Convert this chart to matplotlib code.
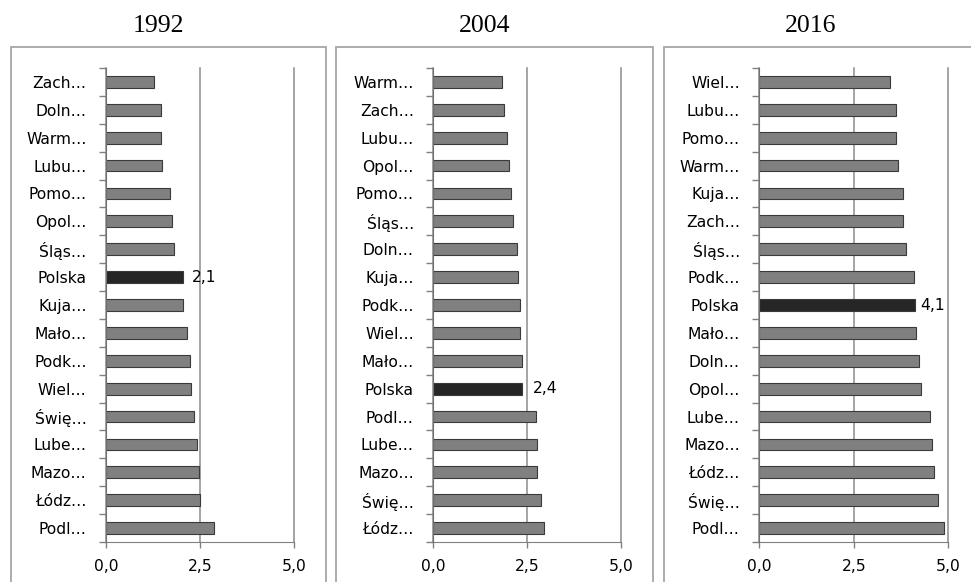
import matplotlib
matplotlib.use("Agg")
import matplotlib.pyplot as plt
from matplotlib.patches import Rectangle
from matplotlib.ticker import FixedLocator, FuncFormatter

# ---- data ----
years = ["1992", "2004", "2016"]

cats_1992 = ["Zach…", "Doln…", "Warm…", "Lubu…", "Pomo…", "Opol…", "Śląs…", "Polska",
             "Kuja…", "Mało…", "Podk…", "Wiel…", "Świę…", "Lube…", "Mazo…", "Łódz…", "Podl…"]
vals_1992 = [1.28, 1.46, 1.46, 1.50, 1.69, 1.75, 1.80, 2.06,
             2.06, 2.16, 2.23, 2.26, 2.33, 2.42, 2.47, 2.50, 2.87]

cats_2004 = ["Warm…", "Zach…", "Lubu…", "Opol…", "Pomo…", "Śląs…", "Doln…", "Kuja…",
             "Podk…", "Wiel…", "Mało…", "Polska", "Podl…", "Lube…", "Mazo…", "Świę…", "Łódz…"]
vals_2004 = [1.84, 1.88, 1.95, 2.02, 2.06, 2.12, 2.23, 2.26,
             2.30, 2.30, 2.36, 2.37, 2.73, 2.77, 2.77, 2.86, 2.94]

cats_2016 = ["Wiel…", "Lubu…", "Pomo…", "Warm…", "Kuja…", "Zach…", "Śląs…", "Podk…",
             "Polska", "Mało…", "Doln…", "Opol…", "Lube…", "Mazo…", "Łódz…", "Świę…", "Podl…"]
vals_2016 = [3.47, 3.62, 3.62, 3.66, 3.79, 3.79, 3.89, 4.09,
             4.13, 4.14, 4.23, 4.27, 4.52, 4.57, 4.61, 4.74, 4.88]

x_ticks = [0.0, 2.5, 5.0]
highlight = "Polska"

# ---- styling ----
W, H = 971, 582
FONT = "DejaVu Sans"
FS = 11.2
BAR_COLOR = "#808080"
HL_COLOR = "#262626"
EDGE = "#3a3a3a"
GRID = "#8c8c8c"
BORDER = "#a6a6a6"

fig = plt.figure(figsize=(W / 100, H / 100), dpi=100)

panels = [
    dict(cats=cats_1992, vals=vals_1992, x0=106, x5=294, box=(11, 326), tx=158, loff=8),
    dict(cats=cats_2004, vals=vals_2004, x0=433.3, x5=621.3, box=(336, 653), tx=485, loff=10),
    dict(cats=cats_2016, vals=vals_2016, x0=759.3, x5=948.3, box=(664, 1000), tx=811, loff=5),
]
ax_top, ax_bot = 68, 542
box_top = 47

def fmt(v, pos=None):
    return f"{v:.1f}".replace(".", ",")

for year, p in zip(years, panels):
    ax = fig.add_axes([p["x0"] / W, 1 - ax_bot / H, (p["x5"] - p["x0"]) / W, (ax_bot - ax_top) / H])
    n = len(p["cats"])
    ys = list(range(n))
    colors = [HL_COLOR if c == highlight else BAR_COLOR for c in p["cats"]]
    ax.barh(ys, p["vals"], height=0.42, color=colors, edgecolor=EDGE, linewidth=0.8, zorder=3)
    ax.set_ylim(n - 0.5, -0.5)
    ax.set_xlim(0, 5)
    ax.set_yticks(ys)
    ax.set_yticklabels(p["cats"], fontsize=FS, family=FONT)
    ax.yaxis.set_minor_locator(FixedLocator([i - 0.5 for i in range(n + 1)]))
    ax.tick_params(axis="y", which="major", length=0, pad=14)
    ax.tick_params(axis="y", which="minor", length=5, width=1.0, color="#808080")
    ax.set_xticks(x_ticks)
    ax.xaxis.set_major_formatter(FuncFormatter(fmt))
    ax.tick_params(axis="x", which="major", length=4, width=1.0, color="#808080", pad=8, labelsize=FS)
    for lab in ax.get_xticklabels():
        lab.set_family(FONT)
    ax.xaxis.grid(True, color=GRID, linewidth=1.1, zorder=0)
    for gl in ax.get_xgridlines():
        gl.set_clip_on(False)
    ax.set_axisbelow(True)
    for s in ("top", "right"):
        ax.spines[s].set_visible(False)
    ax.spines["left"].set_color("#707070")
    ax.spines["bottom"].set_color("#808080")
    ax.spines["left"].set_zorder(4)
    # data label for highlighted bar
    for c, v, y in zip(p["cats"], p["vals"], ys):
        if c == highlight:
            ax.annotate(fmt(v), xy=(v, y), xytext=(p["loff"], 0), textcoords="offset pixels",
                        ha="left", va="center", fontsize=FS, family=FONT, color="black")
    # panel border
    bx0, bx1 = p["box"]
    fig.patches.append(Rectangle((bx0 / W, -0.1), (bx1 - bx0) / W, 0.1 + 1 - box_top / H,
                                 transform=fig.transFigure, fill=False, edgecolor=BORDER,
                                 linewidth=1.3, figure=fig))
    fig.text(p["tx"] / W, 1 - 25.5 / H, year, ha="center", va="center",
             fontsize=18.5, family="Liberation Serif", color="black")

fig.savefig("out.png", dpi=100)
